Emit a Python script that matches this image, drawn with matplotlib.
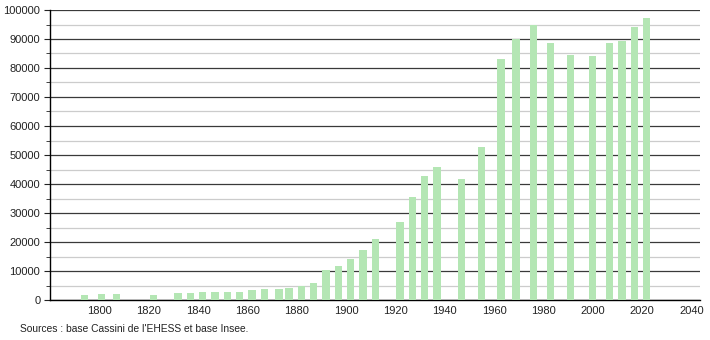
import matplotlib
matplotlib.use("Agg")
import matplotlib.pyplot as plt
from matplotlib.ticker import MultipleLocator

plt.rcParams['font.family'] = ['Liberation Sans', 'DejaVu Sans']

years = [1793, 1800, 1806, 1821, 1831, 1836, 1841, 1846, 1851, 1856, 1861, 1866,
         1872, 1876, 1881, 1886, 1891, 1896, 1901, 1906, 1911, 1921, 1926, 1931,
         1936, 1946, 1954, 1962, 1968, 1975, 1982, 1990, 1999, 2006, 2011, 2016, 2021]
population = [1750, 2050, 2050, 1700, 2500, 2500, 2900, 2900, 2900, 2750, 3400, 3800,
              3800, 4250, 4800, 5750, 10300, 11800, 14000, 17200, 21000, 27000, 35600, 42900,
              45700, 41700, 52900, 83100, 89900, 94800, 88500, 84500, 84100, 88500, 89400, 94250, 97350]
x_ticks = [1800, 1820, 1840, 1860, 1880, 1900, 1920, 1940, 1960, 1980, 2000, 2020, 2040]
y_ticks = list(range(0, 100001, 10000))
source = "Sources : base Cassini de l'EHESS et base Insee."

fig = plt.figure(figsize=(7.1, 3.4), dpi=100)
ax = fig.add_axes([50/710, 40/340, 650/710, 290/340])

ax.bar([y - 0.6 for y in years], population, width=3.0, align='edge',
       color='#b4e6b4', edgecolor='none', zorder=3)

ax.set_xlim(1780, 2043.5)
ax.set_ylim(0, 100000)
ax.set_xticks(x_ticks)
ax.set_yticks(y_ticks)
ax.yaxis.set_minor_locator(MultipleLocator(5000))
ax.grid(axis='y', which='major', color='#3a3a3a', linewidth=0.9, zorder=1)
ax.grid(axis='y', which='minor', color='#cccccc', linewidth=0.9, zorder=1)
ax.set_axisbelow(True)

for s in ['top', 'right']:
    ax.spines[s].set_visible(False)
ax.spines['left'].set_color('black')
ax.spines['bottom'].set_color('black')
ax.spines['left'].set_linewidth(1.0)
ax.spines['bottom'].set_linewidth(1.0)

ax.tick_params(axis='y', which='major', length=4, labelsize=8, pad=3, colors='#222222')
ax.tick_params(axis='y', which='minor', length=3, color='#222222')
ax.tick_params(axis='x', which='major', length=0, labelsize=8, pad=4, colors='#222222')
for lbl in ax.get_yticklabels() + ax.get_xticklabels():
    lbl.set_color('#222222')

fig.text(20/710, 1 - 329/340, source, fontsize=7.4, color='#222222', va='center', ha='left')

fig.savefig("out.png", dpi=100)
